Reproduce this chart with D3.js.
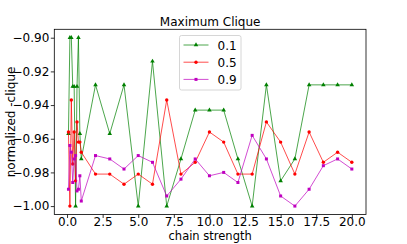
<!DOCTYPE html>
<html>
<head>
<meta charset="utf-8">
<script src="https://cdn.jsdelivr.net/npm/d3@7"></script>
<style>
  body { margin: 0; background: #fff; }
  svg { font-family: "DejaVu Sans", sans-serif; }
</style>
</head>
<body>
<div id="chart"></div>
<script>
// chain strengths (x)
const chainStrength = [0.1, 0.2, 0.3, 0.4, 0.5, 0.6, 0.7, 0.8, 0.9, 1,
  2, 3, 4, 5, 6, 7, 8, 9, 10, 11, 12, 13, 14, 15, 16, 17, 18, 19, 20];

const seriesNames = ['0.1', '0.5', '0.9'];

const clique01 = [-0.957, -0.900, -0.900, -0.929, -0.929, -1.000, -0.929, -0.900, -0.957, -0.972,
  -0.928, -0.957, -0.928, -1.000, -0.914, -1.000, -0.972, -0.943, -0.943, -0.943,
  -0.972, -1.000, -0.928, -0.985, -0.972, -0.928, -0.928, -0.928, -0.928];

const clique05 = [-0.956, -1.000, -0.937, -0.975, -0.956, -0.985, -0.950, -0.962, -0.962, -0.968,
  -0.981, -0.981, -0.987, -0.981, -0.987, -0.937, -0.981, -0.974, -0.956, -0.962,
  -0.981, -0.981, -0.950, -0.962, -0.981, -0.956, -0.974, -0.968, -0.974];

const clique09 = [-0.990, -0.964, -0.968, -0.986, -0.972, -0.970, -0.991, -0.990, -0.982, -0.997,
  -0.970, -0.972, -0.978, -0.970, -0.974, -0.994, -0.984, -0.972, -0.982, -0.980,
  -0.986, -0.958, -0.972, -0.994, -1.000, -0.990, -0.976, -0.972, -0.978];

const yTicks = [-1.00, -0.98, -0.96, -0.94, -0.92, -0.90];
const xTicks = [0, 2.5, 5, 7.5, 10, 12.5, 15, 17.5, 20];

const colors = ['#008000', '#ff0000', '#bf00bf'];
const shapes = [d3.symbolTriangle, d3.symbolCircle, d3.symbolSquare];
const allSeries = [clique01, clique05, clique09];

const W = 407, H = 244;
const margin = {top: 29.3, right: 41, bottom: 29.5, left: 54.3};
const width = W - margin.left - margin.right;
const height = H - margin.top - margin.bottom;

const svg = d3.select('#chart').append('svg')
  .attr('width', W)
  .attr('height', H);

const g = svg.append('g')
  .attr('transform', 'translate(' + margin.left + ',' + margin.top + ')');

// matplotlib style 5% padding on the data range
const xMin = d3.min(chainStrength), xMax = d3.max(chainStrength);
const xPad = (xMax - xMin) * 0.05;
const x = d3.scaleLinear().domain([xMin - xPad, xMax + xPad]).range([0, width]);
const y = d3.scaleLinear().domain([-1.005, -0.895]).range([height, 0]);

const fmtY = v => d3.format('.2f')(v).replace('-', '\u2212');

const xAxis = g.append('g')
  .attr('transform', 'translate(0,' + height + ')')
  .call(d3.axisBottom(x).tickValues(xTicks).tickFormat(d3.format('.1f')).tickSize(3.5).tickPadding(-0.5));
const yAxis = g.append('g')
  .call(d3.axisLeft(y).tickValues(yTicks).tickFormat(fmtY).tickSize(3.5).tickPadding(1.5));

[xAxis, yAxis].forEach(a => {
  a.select('.domain').remove();
  a.selectAll('text').attr('font-size', 12).attr('fill', '#000').attr('font-family', '"DejaVu Sans", sans-serif');
  a.selectAll('line').attr('stroke', '#000').attr('stroke-width', 0.8);
});

const line = d3.line()
  .x((d, i) => x(chainStrength[i]))
  .y(d => y(d));

allSeries.forEach((s, k) => {
  g.append('path')
    .datum(s)
    .attr('fill', 'none')
    .attr('stroke', colors[k])
    .attr('stroke-opacity', 0.7)
    .attr('stroke-width', 1)
    .attr('d', line);

  g.selectAll('.mk' + k)
    .data(s)
    .enter().append('path')
    .attr('class', 'mk' + k)
    .attr('transform', (d, i) => 'translate(' + x(chainStrength[i]) + ',' + y(d) + ')')
    .attr('d', d3.symbol().type(shapes[k]).size(9))
    .attr('fill', colors[k]);
});

// frame
g.append('rect')
  .attr('width', width)
  .attr('height', height)
  .attr('fill', 'none')
  .attr('stroke', '#000')
  .attr('stroke-width', 0.8);

// title and labels
svg.append('text')
  .attr('x', margin.left + width / 2)
  .attr('y', 25.5)
  .attr('text-anchor', 'middle')
  .attr('font-size', 12)
  .text('Maximum Clique');

svg.append('text')
  .attr('x', margin.left + width / 2)
  .attr('y', 240)
  .attr('text-anchor', 'middle')
  .attr('font-size', 11.5)
  .text('chain strength');

svg.append('text')
  .attr('transform', 'translate(14.5,' + (margin.top + height / 2) + ') rotate(-90)')
  .attr('text-anchor', 'middle')
  .attr('font-size', 12)
  .text('normalized -clique');

// legend
const legend = svg.append('g').attr('transform', 'translate(179.5,35.5)');
legend.append('rect')
  .attr('width', 61.5)
  .attr('height', 54.5)
  .attr('rx', 2)
  .attr('fill', '#fff')
  .attr('fill-opacity', 0.8)
  .attr('stroke', '#ccc')
  .attr('stroke-width', 0.8);

seriesNames.forEach((name, k) => {
  const row = legend.append('g').attr('transform', 'translate(0,' + (9.5 + k * 17.2) + ')');
  row.append('line')
    .attr('x1', 4).attr('x2', 29)
    .attr('stroke', colors[k])
    .attr('stroke-opacity', 0.7)
    .attr('stroke-width', 1);
  row.append('path')
    .attr('transform', 'translate(16.5,0)')
    .attr('d', d3.symbol().type(shapes[k]).size(9))
    .attr('fill', colors[k]);
  row.append('text')
    .attr('x', 38)
    .attr('y', 4.5)
    .attr('font-size', 12)
    .text(name);
});
</script>
</body>
</html>
